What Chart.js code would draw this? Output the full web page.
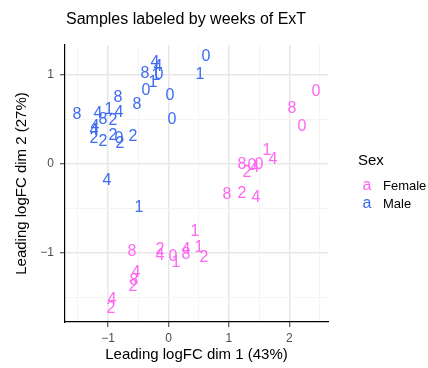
<!DOCTYPE html>
<html>
<head>
<meta charset="utf-8">
<script src="https://cdn.jsdelivr.net/npm/chart.js@4.4.1/dist/chart.umd.min.js"></script>
<style>
html,body{margin:0;padding:0;background:#fff;}
#wrap{width:428px;height:368px;}
</style>
</head>
<body>
<div id="wrap"><canvas id="c" width="428" height="368"></canvas></div>
<script>
// ---- data ----
const maleLabels = ["4","4","8","0","1","1","0","1","0","0","8","8","0","8","4","1","4","8","2","4","4","2","2","2","0","2","2","4","1"];
const maleX = [-0.224,-0.174,-0.389,-0.157,-0.207,0.522,0.621,-0.257,-0.373,0.025,-0.836,-0.522,0.058,-1.515,-1.167,-0.985,-0.820,-1.084,-0.919,-1.217,-1.233,-1.233,-1.084,-0.919,-0.820,-0.803,-0.588,-1.018,-0.488];
const maleY = [1.134,1.089,1.010,0.999,0.988,0.999,1.201,0.909,0.819,0.763,0.741,0.662,0.494,0.550,0.561,0.606,0.572,0.494,0.483,0.415,0.370,0.281,0.247,0.314,0.281,0.224,0.303,-0.191,-0.494];

const femaleLabels = ["0","8","0","1","4","8","2","0","4","0","8","2","4","1","1","2","4","8","0","1","2","4","8","4","8","2","4","2"];
const femaleX = [2.442,2.045,2.210,1.631,1.730,1.217,1.300,1.382,1.432,1.498,0.969,1.217,1.449,0.439,0.505,0.588,0.290,0.290,0.075,0.124,-0.141,-0.141,-0.604,-0.538,-0.571,-0.588,-0.935,-0.952];
const femaleY = [0.808,0.617,0.415,0.146,0.045,-0.011,-0.101,-0.022,-0.045,-0.011,-0.348,-0.337,-0.382,-0.763,-0.943,-1.055,-0.965,-1.021,-1.044,-1.111,-0.965,-1.033,-0.988,-1.223,-1.313,-1.380,-1.526,-1.627];

const xTicks = [-1.5,-1,-0.5,0,0.5,1,1.5,2,2.5];
const yTicks = [-1.5,-1,-0.5,0,0.5,1];
const seriesNames = ["Female","Male"];

const PINK = "#FF66F2";
const BLUE = "#3D6BF2";
const FONT = "'Liberation Sans', Arial, Helvetica, sans-serif";

function pts(xs, ys){ return xs.map((x,i)=>({x:x, y:ys[i]})); }

const isMajor = v => Math.abs(v - Math.round(v)) < 1e-9;

const textLabels = {
  id:'textLabels',
  afterDatasetsDraw(chart){
    const ctx = chart.ctx;
    ctx.save();
    ctx.font = "16px " + FONT;
    ctx.textAlign = "center";
    ctx.textBaseline = "middle";
    chart.data.datasets.forEach((ds, di)=>{
      const meta = chart.getDatasetMeta(di);
      ctx.fillStyle = ds.borderColor;
      meta.data.forEach((el, i)=>{
        ctx.fillText(ds.labels[i], el.x, el.y);
      });
    });
    ctx.restore();
  }
};

const decor = {
  id:'decor',
  afterDraw(chart){
    const ctx = chart.ctx;
    const a = chart.chartArea;
    ctx.save();
    // title
    ctx.fillStyle = "#000";
    ctx.font = "16px " + FONT;
    ctx.textAlign = "left";
    ctx.textBaseline = "middle";
    ctx.fillText("Samples labeled by weeks of ExT", a.left + 1, 20);
    // legend
    ctx.font = "15px " + FONT;
    ctx.fillText("Sex", 358, 161);
    const cols = [PINK, BLUE];
    const ys = [186, 204];
    seriesNames.forEach((n,i)=>{
      ctx.font = "16px " + FONT;
      ctx.textAlign = "center";
      ctx.fillStyle = cols[i];
      ctx.fillText("a", 367, ys[i]);
      ctx.font = "13px " + FONT;
      ctx.textAlign = "left";
      ctx.fillStyle = "#000";
      ctx.fillText(n, 383, ys[i]);
    });
    ctx.restore();
  }
};

const gridOpts = {
  color: c => (c.tick && isMajor(c.tick.value)) ? "#E8E8E8" : "#F4F4F4",
  lineWidth: c => (c.tick && isMajor(c.tick.value)) ? 1.5 : 1,
  tickColor: c => (c.tick && isMajor(c.tick.value)) ? "#333" : "rgba(0,0,0,0)",
  tickLength: 5,
  tickWidth: 1,
  drawTicks: true
};

new Chart(document.getElementById('c'), {
  type:'scatter',
  data:{
    datasets:[
      {label:seriesNames[0], labels:femaleLabels, data:pts(femaleX, femaleY), borderColor:PINK, backgroundColor:PINK, pointRadius:0, pointHoverRadius:0},
      {label:seriesNames[1], labels:maleLabels, data:pts(maleX, maleY), borderColor:BLUE, backgroundColor:BLUE, pointRadius:0, pointHoverRadius:0}
    ]
  },
  options:{
    responsive:false,
    animation:false,
    devicePixelRatio:1,
    layout:{padding:{top:45, right:100, bottom:0, left:0}},
    plugins:{legend:{display:false}, tooltip:{enabled:false}, title:{display:false}},
    scales:{
      x:{
        type:'linear', min:-1.714, max:2.641,
        afterBuildTicks: s => { s.ticks = xTicks.map(v=>({value:v})); },
        afterFit: s => { s.height = 46; },
        grid: gridOpts,
        border:{display:true, color:"#000", width:1.2},
        ticks:{color:"#4D4D4D", font:{family:FONT, size:12}, padding:4, maxRotation:0, autoSkip:false,
          callback: v => isMajor(v) ? String(Math.round(v)).replace('-', '\u2212') : ''},
        title:{display:true, text:"Leading logFC dim 1 (43%)", color:"#000", font:{family:FONT, size:15}, padding:{top:0, bottom:4}}
      },
      y:{
        type:'linear', min:-1.773, max:1.336,
        afterBuildTicks: s => { s.ticks = yTicks.map(v=>({value:v})); },
        afterFit: s => { s.width = 65; },
        grid: gridOpts,
        border:{display:true, color:"#000", width:1.2},
        ticks:{color:"#4D4D4D", font:{family:FONT, size:12}, padding:6, autoSkip:false,
          callback: v => isMajor(v) ? String(Math.round(v)).replace('-', '\u2212') : ''},
        title:{display:true, text:"Leading logFC dim 2 (27%)", color:"#000", font:{family:FONT, size:15}, padding:{top:13, bottom:0}}
      }
    }
  },
  plugins:[textLabels, decor]
});
</script>
</body>
</html>
